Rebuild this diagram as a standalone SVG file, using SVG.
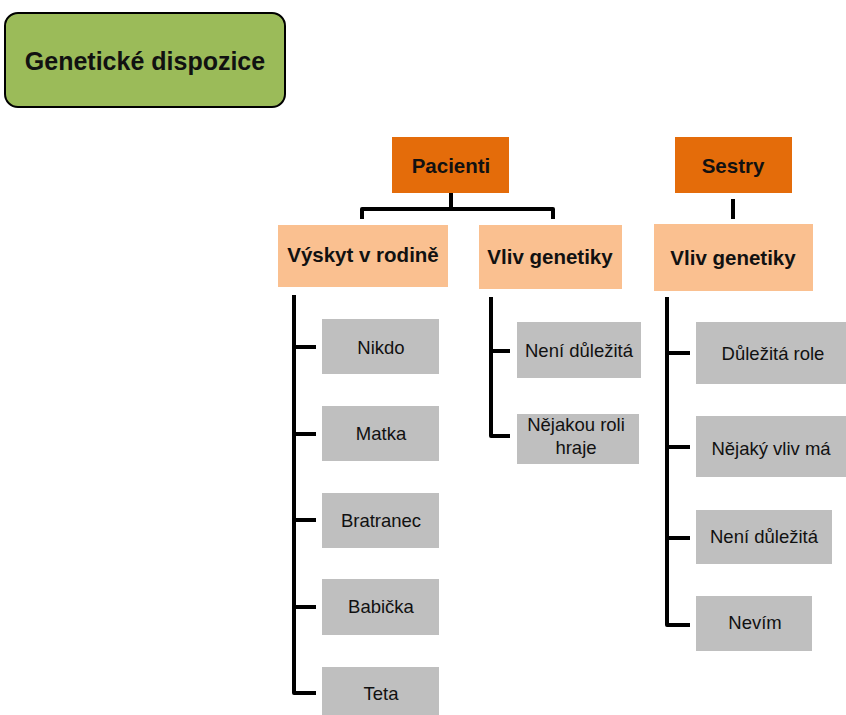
<svg xmlns="http://www.w3.org/2000/svg" width="846" height="715" viewBox="0 0 846 715">
  <style>
    .title { fill: #9BBB59; stroke: #000; stroke-width: 2; }
    .root { fill: #E46C0A; }
    .cat { fill: #FAC090; }
    .leaf { fill: #BFBFBF; }
    text { font-family: "Liberation Sans", Arial, sans-serif; text-anchor: middle; fill: #111; }
    .b { font-weight: bold; font-size: 20.5px; }
    .r { font-size: 18.5px; }
    .conn path { fill: none; stroke: #000; stroke-width: 4; stroke-linejoin: round; stroke-linecap: butt; }
  </style>

  <g id="genetic-dispositions">
    <rect class="title" x="5" y="13" width="280" height="94" rx="13"/>
    <text class="b" x="145" y="70" style="font-size:25px">Genetické dispozice</text>
  </g>

  <!-- connectors -->
  <g class="conn" id="connectors">
    <path d="M451 193 V209"/>
    <path d="M362 219 V209 H553 V219"/>
    <path d="M733 199 V219"/>
    <path d="M294 295 V693 H316"/>
    <path d="M294 347 H316 M294 434 H316 M294 520 H316 M294 607 H316"/>
    <path d="M491 297 V436 H510"/>
    <path d="M491 351 H510"/>
    <path d="M667 297 V625 H690"/>
    <path d="M667 353 H690 M667 447 H690 M667 538 H690"/>
  </g>

  <g id="patients">
    <rect class="root" x="392" y="137" width="117" height="56"/>
    <text class="b" x="451" y="173">Pacienti</text>
  </g>
  <g id="nurses">
    <rect class="root" x="675" y="137" width="117" height="56"/>
    <text class="b" x="733" y="173">Sestry</text>
  </g>

  <g id="patients-family">
    <rect class="cat" x="278" y="225" width="170" height="62"/>
    <text class="b" x="363" y="262">Výskyt v rodině</text>
  </g>
  <g id="patients-genetics">
    <rect class="cat" x="479" y="225" width="143" height="64"/>
    <text class="b" x="550" y="264">Vliv genetiky</text>
  </g>
  <g id="nurses-genetics">
    <rect class="cat" x="654" y="224" width="159" height="67"/>
    <text class="b" x="733" y="265">Vliv genetiky</text>
  </g>

  <g id="family-nobody">
    <rect class="leaf" x="322" y="319" width="117" height="55"/>
    <text class="r" x="381" y="354">Nikdo</text>
  </g>
  <g id="family-mother">
    <rect class="leaf" x="322" y="406" width="117" height="55"/>
    <text class="r" x="381" y="440">Matka</text>
  </g>
  <g id="family-cousin">
    <rect class="leaf" x="322" y="493" width="117" height="55"/>
    <text class="r" x="381" y="527">Bratranec</text>
  </g>
  <g id="family-grandmother">
    <rect class="leaf" x="322" y="579" width="117" height="56"/>
    <text class="r" x="381" y="613">Babička</text>
  </g>
  <g id="family-aunt">
    <rect class="leaf" x="322" y="667" width="117" height="48"/>
    <text class="r" x="381" y="700">Teta</text>
  </g>

  <g id="patients-not-important">
    <rect class="leaf" x="517" y="322" width="124" height="56"/>
    <text class="r" x="579" y="357">Není důležitá</text>
  </g>
  <g id="patients-some-role">
    <rect class="leaf" x="517" y="414" width="122" height="50"/>
    <text class="r" x="576" y="431">Nějakou roli</text>
    <text class="r" x="576" y="454">hraje</text>
  </g>

  <g id="nurses-important">
    <rect class="leaf" x="696" y="322" width="150" height="62"/>
    <text class="r" x="773" y="360">Důležitá role</text>
  </g>
  <g id="nurses-some-effect">
    <rect class="leaf" x="696" y="416" width="150" height="61"/>
    <text class="r" x="771" y="455">Nějaký vliv má</text>
  </g>
  <g id="nurses-not-important">
    <rect class="leaf" x="696" y="510" width="136" height="54"/>
    <text class="r" x="764" y="543">Není důležitá</text>
  </g>
  <g id="nurses-dont-know">
    <rect class="leaf" x="696" y="596" width="116" height="55"/>
    <text class="r" x="755" y="629">Nevím</text>
  </g>
</svg>
